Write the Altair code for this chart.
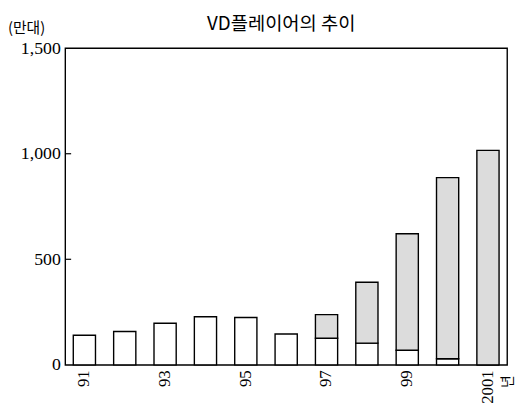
import altair as alt
import pandas as pd

years = ["91", "92", "93", "94", "95", "96", "97", "98", "99", "2000", "2001"]
white_part = [140, 158, 197, 228, 224, 146, 126, 103, 69, 29, 0]
totals = [140, 158, 197, 228, 224, 146, 238, 391, 621, 887, 1016]
label_years = ["91", "93", "95", "97", "99", "2001"]
y_ticks = [0, 500, 1000, 1500]
inner_ticks = [500, 1000]

rows = []
for i, yr in enumerate(years):
    rows.append({"year": yr, "part": "white", "lo": 0, "hi": white_part[i]})
    if totals[i] > white_part[i]:
        rows.append({"year": yr, "part": "dot", "lo": white_part[i], "hi": totals[i]})
df = pd.DataFrame(rows)

W, H = 448, 321
yscale = alt.Scale(domain=[0, 1500], nice=False)
yaxis = alt.Axis(values=y_ticks, format=",d", title=None, domain=False, ticks=False,
                 grid=False, labelPadding=5, labelFont="Liberation Serif",
                 labelFontSize=18, labelColor="black")

x = alt.X("year:N", sort=years,
          scale=alt.Scale(paddingInner=0.45, paddingOuter=0.2),
          axis=alt.Axis(values=label_years, title=None, labelAngle=270, domain=False,
                        ticks=False, labelPadding=5, labelFont="Liberation Serif",
                        labelFontSize=17, labelColor="black"))

bars = alt.Chart(df).mark_bar(stroke="black", strokeWidth=1.4).encode(
    x=x,
    y=alt.Y("lo:Q", scale=yscale, axis=yaxis),
    y2="hi:Q",
    fill=alt.Fill("part:N", scale=alt.Scale(domain=["white", "dot"], range=["white", "#dcdcdc"]),
                  legend=None),
)

ticks = alt.Chart(pd.DataFrame({"v": inner_ticks})).mark_rule(color="black", strokeWidth=1.2).encode(
    y=alt.Y("v:Q", scale=yscale, axis=yaxis),
    x=alt.value(0), x2=alt.value(6),
)

title = alt.Chart(pd.DataFrame({"t": ["VD플레이어의 추이"]})).mark_text(
    font="Noto Sans CJK KR", fontSize=19, align="center", baseline="middle", color="black"
).encode(text="t:N", x=alt.value(219), y=alt.value(-24))

unit = alt.Chart(pd.DataFrame({"t": ["(만대)"]})).mark_text(
    font="Noto Sans CJK KR", fontSize=15, align="left", baseline="middle", color="black"
).encode(text="t:N", x=alt.value(-58), y=alt.value(-20))

nyeon = alt.Chart(pd.DataFrame({"t": ["년"]})).mark_text(
    font="Noto Sans CJK KR", fontSize=14, angle=270, align="center", baseline="middle", color="black"
).encode(text="t:N", x=alt.value(W + 1), y=alt.value(H + 17))

chart = alt.layer(bars, ticks, title, unit, nyeon).properties(
    width=W, height=H,
    padding={"left": 58, "top": 38, "right": 10, "bottom": 40},
    autosize=alt.AutoSizeParams(type="none"),
).configure_view(stroke="black", strokeWidth=1.4)

chart.save("out.html", embed_options={"renderer": "svg", "actions": False})
